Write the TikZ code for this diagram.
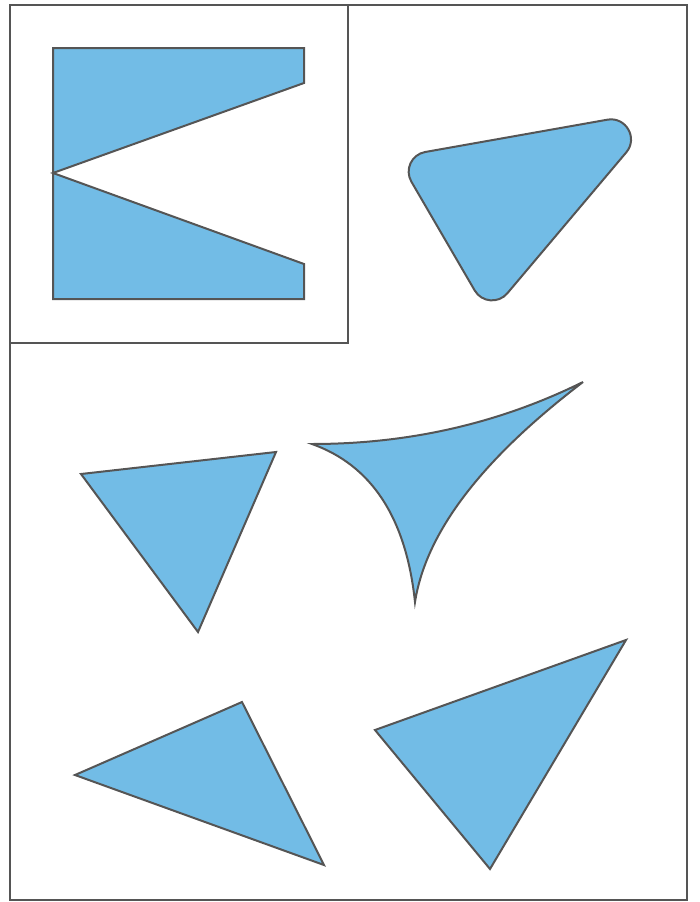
\documentclass[tikz,border=0pt]{standalone}
\usepackage{tikz}
\usetikzlibrary{calc}
\definecolor{skyfill}{HTML}{72BCE6}
\definecolor{edgegray}{HTML}{555555}

\begin{document}
\begin{tikzpicture}[x=1pt, y=-1pt, frame/.style={draw=edgegray, line width=1.6pt}, piece/.style={fill=skyfill, draw=edgegray, line width=2pt}]
	\useasboundingbox (0,0) rectangle (699,902);
	\draw[frame] (10,5) rectangle (687,900);
	\draw[frame] (10,5) rectangle (348,343);
	\draw[piece] (53,48) -- (304,48) -- (304,83) -- (53,173) -- (304,264) -- (304,299) -- (53,299) -- cycle;
	\coordinate (ra) at (397,157);
	\coordinate (rb) at (662,110);
	\coordinate (rc) at (489,315);
	\draw[piece] ($(ra)!28.6pt!(rb)$) -- ($(rb)!55.4pt!(ra)$)
		.. controls ($(rb)!36.7pt!(ra)$) and ($(rb)!36.7pt!(rc)$) .. ($(rb)!55.4pt!(rc)$) -- ($(rc)!28.4pt!(rb)$)
		.. controls ($(rc)!14.6pt!(rb)$) and ($(rc)!14.6pt!(ra)$) .. ($(rc)!28.4pt!(ra)$) -- ($(ra)!28.6pt!(rc)$)
		.. controls ($(ra)!14.7pt!(rc)$) and ($(ra)!14.7pt!(rb)$) .. cycle;
	\draw[piece] (312,444) .. controls (410,444) and (500,423) .. (583,382) .. controls (482,459) and (426,532) .. (415,602) .. controls (406,517) and (371,465) .. (312,444) -- cycle;
	\draw[piece] (81,474) -- (276,452) -- (198,632) -- cycle;
	\draw[piece] (75,775) -- (242,702) -- (324,865) -- cycle;
	\draw[piece] (375,730) -- (626,640) -- (490,869) -- cycle;
\end{tikzpicture}
\end{document}
